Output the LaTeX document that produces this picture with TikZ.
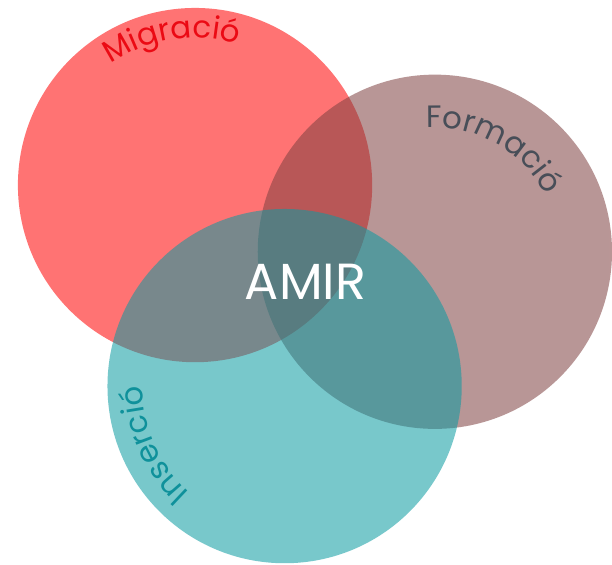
\documentclass[tikz,border=0pt]{standalone}
\usepackage{fontspec}
\setmainfont{Poppins}
\usetikzlibrary{decorations.text}
\definecolor{migred}{RGB}{255,0,0}
\definecolor{formbrown}{RGB}{127,64,64}
\definecolor{insteal}{RGB}{10,155,162}
\definecolor{migtext}{RGB}{235,10,20}
\definecolor{formtext}{RGB}{72,78,88}
\definecolor{instext}{RGB}{15,145,155}
\newcommand{\labfont}{\fontsize{31}{36}\selectfont}
\tikzset{venn/.style = {circle, minimum size=356pt, inner sep=0pt, fill opacity=0.55},
         curvelabel/.style = {decorate, decoration={text along path, text align=center, text color=#1}}}

\begin{document}
\begin{tikzpicture}[x = 1pt, y = 1pt]
\fill[white] (0,0) rectangle (612,567);
\node[venn, fill=migred] (migracio) at (196,381) {};
\node[venn, fill=formbrown] (formacio) at (437,314) {};
\node[venn, fill=insteal] (insercio) at (286,179) {};
\path[curvelabel=migtext, decoration={text={|\labfont|Migració}}] ([shift={(146:148)}]migracio.center) arc[start angle=146, end angle=52, radius=148];
\path[curvelabel=formtext, decoration={text={|\labfont|Formació}}] ([shift={(107:125)}]formacio.center) arc[start angle=107, end angle=14, radius=125];
\path[curvelabel=instext, decoration={text={|\labfont|Inserció}}] ([shift={(250:143)}]insercio.center) arc[start angle=250, end angle=158, radius=143];
\node[text=white, font=\fontsize{51}{56}\selectfont] (amir) at (307,284) {AMIR};
\end{tikzpicture}
\end{document}
